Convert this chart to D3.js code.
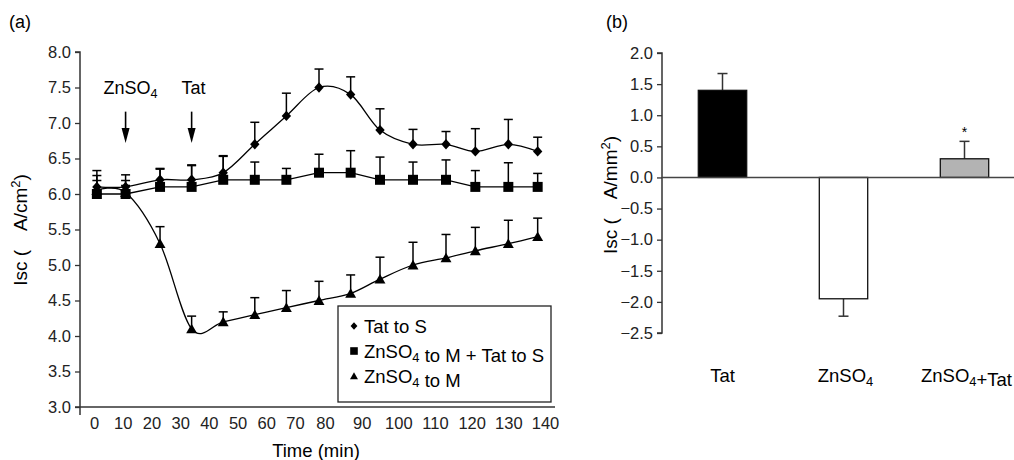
<!DOCTYPE html>
<html>
<head>
<meta charset="utf-8">
<script src="https://cdn.jsdelivr.net/npm/d3@7"></script>
<style>
  body { margin: 0; background: #fff; }
  svg { display: block; font-family: "Liberation Sans", Arial, sans-serif; }
</style>
</head>
<body>
<div class="canvas"></div>
<script>

// ---- data (a) ----
const times = [1, 11, 23, 34, 45, 56, 67, 78, 87, 95, 104, 113, 121, 130, 138];
const tatToS = [6.1, 6.1, 6.2, 6.2, 6.3, 6.7, 7.1, 7.5, 7.4, 6.9, 6.7, 6.7, 6.6, 6.7, 6.6];
const tatToSErr = [0.23, 0.17, 0.16, 0.21, 0.24, 0.31, 0.32, 0.26, 0.25, 0.3, 0.21, 0.18, 0.32, 0.35, 0.2];
const znTat = [6.0, 6.0, 6.1, 6.1, 6.2, 6.2, 6.2, 6.3, 6.3, 6.2, 6.2, 6.2, 6.1, 6.1, 6.1];
const znTatErr = [0.26, 0.19, 0.25, 0.3, 0.33, 0.25, 0.16, 0.26, 0.31, 0.32, 0.25, 0.28, 0.23, 0.34, 0.19];
const znToM = [6.05, 6.02, 5.3, 4.1, 4.2, 4.3, 4.4, 4.5, 4.6, 4.8, 5.0, 5.1, 5.2, 5.3, 5.4];
const znToMErr = [0.14, 0.1, 0.24, 0.18, 0.14, 0.24, 0.24, 0.27, 0.26, 0.31, 0.32, 0.33, 0.33, 0.33, 0.26];
const timeTicks = [0, 10, 20, 30, 40, 50, 60, 70, 80, 90, 100, 110, 120, 130, 140];
const iscTicks = [3.0, 3.5, 4.0, 4.5, 5.0, 5.5, 6.0, 6.5, 7.0, 7.5, 8.0];
const arrowTimes = [11, 34];
const arrowLabels = [['ZnSO', '4'], ['Tat', '']];

// ---- data (b) ----
const barNames = ['Tat', 'ZnSO4', 'ZnSO4+Tat'];
const barValues = [1.4, -1.95, 0.3];
const barErr = [0.27, 0.28, 0.28];
const barTicks = [-2.5, -2.0, -1.5, -1.0, -0.5, 0, 0.5, 1.0, 1.5, 2.0];

const barFills = ['#000', '#fff', '#b3b3b3'];

const svg = d3.select('.canvas')
    .append('svg')
        .attr('width', 1014)
        .attr('height', 460);

svg.append('rect').attr('width', 1014).attr('height', 460).attr('fill', '#fff');

// subscript helper
const sub = (sel, main, s, size) => {
    sel.append('tspan').text(main);
    if (s) {
        sel.append('tspan').attr('dy', 4).attr('font-size', size * 0.7).text(s);
        sel.append('tspan').attr('dy', -4).text('');
    }
};

// ================= (a) =================
const x = d3.scaleLinear().domain([0, 70, 80, 140]).range([94, 295, 325, 545]);
const y = d3.scaleLinear().domain([3, 8]).range([407, 52]);

svg.append('text').attr('x', 9).attr('y', 28).attr('font-size', 18).text('(a)');

const yAxisGroup = svg.append('g').attr('transform', 'translate(80,0)');
yAxisGroup.call(d3.axisLeft(y).tickValues(iscTicks).tickFormat(d3.format('.1f')).tickSize(5).tickPadding(4));
yAxisGroup.select('.domain').attr('d', `M-5,${y(8)}H0V${y(3) + 8}`);

const xAxisGroup = svg.append('g').attr('transform', `translate(0,${y(3)})`);
xAxisGroup.call(d3.axisBottom(x).tickValues(timeTicks).tickSize(0).tickPadding(10));
xAxisGroup.select('.domain').remove();
svg.append('line').attr('x1', 75).attr('x2', 555).attr('y1', y(3)).attr('y2', y(3));

svg.selectAll('.tick text').attr('font-size', 16.5).attr('font-family', null).attr('fill', '#222');
svg.selectAll('.tick line').attr('stroke', '#333').attr('stroke-width', 1.3);
svg.selectAll('.domain').attr('stroke', '#333').attr('stroke-width', 1.5);
svg.selectAll('line').filter(function() { return !this.closest('.tick'); })
    .attr('stroke', '#333').attr('stroke-width', 1.5);

svg.append('text')
    .attr('x', 316).attr('y', 457)
    .attr('text-anchor', 'middle')
    .attr('font-size', 18.5)
    .text('Time (min)');

const yLabA = svg.append('text')
    .attr('transform', 'translate(27,230) rotate(-90)')
    .attr('text-anchor', 'middle')
    .attr('font-size', 19);
yLabA.append('tspan').text('Isc (\u2002\u2002A/cm');
yLabA.append('tspan').attr('dy', -7).attr('font-size', 13).text('2');
yLabA.append('tspan').attr('dy', 7).text(')');

// arrows
arrowTimes.forEach((t, i) => {
    const ax = x(t);
    svg.append('line')
        .attr('x1', ax).attr('x2', ax)
        .attr('y1', y(7.16)).attr('y2', y(6.9))
        .attr('stroke', '#000').attr('stroke-width', 1.6);
    svg.append('path')
        .attr('d', `M${ax - 4},${y(6.93)}L${ax + 4},${y(6.93)}L${ax},${y(6.72)}Z`)
        .attr('fill', '#000');
    const lab = svg.append('text')
        .attr('x', ax + (arrowLabels[i][1] ? 5 : 2)).attr('y', y(7.5) + 6)
        .attr('text-anchor', 'middle')
        .attr('font-size', 18);
    sub(lab, arrowLabels[i][0], arrowLabels[i][1], 18);
});

const series = [
    { name: ['Tat to S', ''], values: tatToS, err: tatToSErr, shape: 'diamond', curve: d3.curveCardinal.tension(0) },
    { name: ['ZnSO', '4', ' to M + Tat to S'], values: znTat, err: znTatErr, shape: 'square', curve: d3.curveLinear },
    { name: ['ZnSO', '4', ' to M'], values: znToM, err: znToMErr, shape: 'triangle', curve: d3.curveCardinal.tension(0) }
];

const shapePath = (shape, s) => {
    if (shape === 'diamond') return `M0,${-s}L${s * 0.9},0L0,${s}L${-s * 0.9},0Z`;
    if (shape === 'square') return `M${-s},${-s}H${s}V${s}H${-s}Z`;
    return `M0,${-s}L${s * 1.05},${s * 0.85}L${-s * 1.05},${s * 0.85}Z`;
};

const graph = svg.append('g');

// error bars
series.forEach(s => {
    const g = graph.append('g');
    s.values.forEach((v, i) => {
        const cx = x(times[i]);
        g.append('line')
            .attr('x1', cx).attr('x2', cx)
            .attr('y1', y(v)).attr('y2', y(v + s.err[i]))
            .attr('stroke', '#000').attr('stroke-width', 1.5);
        g.append('line')
            .attr('x1', cx - 4.5).attr('x2', cx + 4.5)
            .attr('y1', y(v + s.err[i])).attr('y2', y(v + s.err[i]))
            .attr('stroke', '#000').attr('stroke-width', 1.5);
    });
});

// lines
series.forEach(s => {
    const line = d3.line()
        .x((d, i) => x(times[i]))
        .y(d => y(d))
        .curve(s.curve);
    graph.append('path')
        .datum(s.values)
        .attr('fill', 'none')
        .attr('stroke', '#000')
        .attr('stroke-width', 1.3)
        .attr('d', line);
});

// markers
series.forEach(s => {
    graph.append('g').selectAll('path')
        .data(s.values)
        .enter()
        .append('path')
            .attr('transform', (d, i) => `translate(${x(times[i])},${y(d)})`)
            .attr('d', shapePath(s.shape, s.shape === 'square' ? 5 : 5.2))
            .attr('fill', '#000');
});

// legend
const legend = svg.append('g');
legend.append('rect')
    .attr('x', 338).attr('y', 306).attr('width', 213).attr('height', 96)
    .attr('fill', '#fff').attr('stroke', '#222').attr('stroke-width', 1.3);
series.forEach((s, i) => {
    const ly = 326 + i * 25;
    legend.append('path')
        .attr('transform', `translate(354,${ly})`)
        .attr('d', shapePath(s.shape, 3.8))
        .attr('fill', '#000');
    const t = legend.append('text')
        .attr('x', 364).attr('y', ly + 6.5)
        .attr('font-size', 18.5);
    sub(t, s.name[0], s.name[1], 18.5);
    if (s.name[2]) t.append('tspan').text(s.name[2]);
});

// ================= (b) =================
const xb = d3.scaleBand().domain(barNames).range([662, 1025]).paddingInner(0.6).paddingOuter(0.3);
const yb = d3.scaleLinear().domain([-2.5, 2]).range([333, 53]);

svg.append('text').attr('x', 606).attr('y', 28).attr('font-size', 18).text('(b)');

const ybAxis = svg.append('g').attr('transform', 'translate(662,0)');
ybAxis.call(d3.axisLeft(yb).tickValues(barTicks).tickFormat(d3.format('.1f')).tickSize(5).tickPadding(4));
ybAxis.select('.domain').attr('d', `M-5,${yb(2)}H0V${yb(-2.5)}H-5`).attr('stroke', '#333').attr('stroke-width', 1.5);
ybAxis.selectAll('.tick text').attr('font-size', 16.5).attr('fill', '#222');
ybAxis.selectAll('.tick line').attr('stroke', '#333').attr('stroke-width', 1.3);

const yLabB = svg.append('text')
    .attr('transform', 'translate(617,195) rotate(-90)')
    .attr('text-anchor', 'middle')
    .attr('font-size', 19);
yLabB.append('tspan').text('Isc (\u2002\u2002A/mm');
yLabB.append('tspan').attr('dy', -7).attr('font-size', 13).text('2');
yLabB.append('tspan').attr('dy', 7).text(')');

// error bars for bars
barNames.forEach((n, i) => {
    const cx = xb(n) + xb.bandwidth() / 2;
    const v = barValues[i];
    const end = v >= 0 ? v + barErr[i] : v - barErr[i];
    svg.append('line')
        .attr('x1', cx).attr('x2', cx).attr('y1', yb(v)).attr('y2', yb(end))
        .attr('stroke', '#333').attr('stroke-width', 1.5);
    svg.append('line')
        .attr('x1', cx - 5).attr('x2', cx + 5).attr('y1', yb(end)).attr('y2', yb(end))
        .attr('stroke', '#333').attr('stroke-width', 1.5);
});

svg.append('g').selectAll('rect')
    .data(barValues)
    .enter()
    .append('rect')
        .attr('x', (d, i) => xb(barNames[i]))
        .attr('y', d => Math.min(yb(0), yb(d)))
        .attr('width', xb.bandwidth())
        .attr('height', d => Math.abs(yb(d) - yb(0)))
        .attr('fill', (d, i) => barFills[i])
        .attr('stroke', '#111')
        .attr('stroke-width', 1.3);

// zero line
svg.append('line')
    .attr('x1', 662).attr('x2', 1014).attr('y1', yb(0)).attr('y2', yb(0))
    .attr('stroke', '#444').attr('stroke-width', 1.5);

// significance star
svg.append('text')
    .attr('x', xb(barNames[2]) + xb.bandwidth() / 2)
    .attr('y', yb(barValues[2] + barErr[2]) - 4)
    .attr('text-anchor', 'middle')
    .attr('font-size', 14)
    .text('*');

// category labels
const catLabels = [['Tat', ''], ['ZnSO', '4'], ['ZnSO', '4', '+Tat']];
catLabels.forEach((c, i) => {
    const t = svg.append('text')
        .attr('x', xb(barNames[i]) + xb.bandwidth() / 2 + (c[1] ? 2 : 0))
        .attr('y', 382)
        .attr('text-anchor', 'middle')
        .attr('font-size', 18.5);
    sub(t, c[0], c[1], 18.5);
    if (c[2]) t.append('tspan').text(c[2]);
});

</script>
</body>
</html>
